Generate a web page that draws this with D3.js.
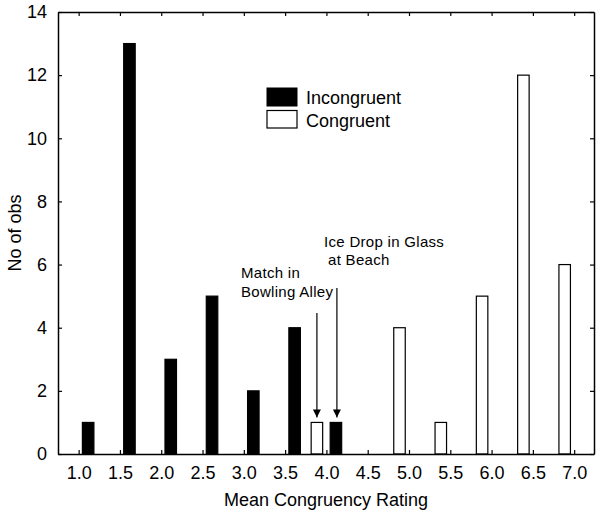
<!DOCTYPE html>
<html>
<head>
<meta charset="utf-8">
<script src="https://cdn.jsdelivr.net/npm/d3@7"></script>
<style>
  body { margin: 0; background: #fff; }
  svg text { font-family: "Liberation Sans", Arial, sans-serif; fill: #000; }
</style>
</head>
<body>
<svg id="chart" width="601" height="516"></svg>
<script>
// ratings (x positions) and counts for each group
var incongruentX = [1.0, 1.5, 2.0, 2.5, 3.0, 3.5, 4.0];
var incongruentN = [1, 13, 3, 5, 2, 4, 1];
var congruentX = [4.0, 5.0, 5.5, 6.0, 6.5, 7.0];
var congruentN = [1, 4, 1, 5, 12, 6];
var xTicks = [1.0, 1.5, 2.0, 2.5, 3.0, 3.5, 4.0, 4.5, 5.0, 5.5, 6.0, 6.5, 7.0];
var yTicks = [0, 2, 4, 6, 8, 10, 12, 14];

var margin = {left: 58, right: 7, top: 12, bottom: 62};
var W = 601, H = 516;

var svg = d3.select("#chart");

var x = d3.scaleLinear().domain([0.75, 7.24]).range([margin.left, W - margin.right]);
var y = d3.scaleLinear().domain([0, 14]).range([H - margin.bottom, margin.top]);

var barW = 11.5;
var off = 9.5; // bars sit beside the tick: incongruent right, congruent left

var g = svg.append("g");

// bars
g.selectAll("rect.inc")
  .data(incongruentX.map(function(v, i){ return {x: v, n: incongruentN[i]}; }))
  .enter().append("rect")
  .attr("class", "inc")
  .attr("x", function(d){ return x(d.x) + off - barW/2; })
  .attr("y", function(d){ return y(d.n); })
  .attr("width", barW)
  .attr("height", function(d){ return y(0) - y(d.n); })
  .attr("fill", "#000")
  .attr("stroke", "#000")
  .attr("stroke-width", 1.2);

g.selectAll("rect.con")
  .data(congruentX.map(function(v, i){ return {x: v, n: congruentN[i]}; }))
  .enter().append("rect")
  .attr("class", "con")
  .attr("x", function(d){ return x(d.x) - off - barW/2; })
  .attr("y", function(d){ return y(d.n); })
  .attr("width", barW)
  .attr("height", function(d){ return y(0) - y(d.n); })
  .attr("fill", "#fff")
  .attr("stroke", "#000")
  .attr("stroke-width", 1.2);

// axes, ticks pointing inwards on all four sides
var xb = svg.append("g").attr("transform", "translate(0," + y(0) + ")")
  .call(d3.axisBottom(x).tickValues(xTicks).tickSizeInner(-4).tickSizeOuter(0)
    .tickPadding(10).tickFormat(d3.format(".1f")));
var xt = svg.append("g").attr("transform", "translate(0," + y(14) + ")")
  .call(d3.axisTop(x).tickValues(xTicks).tickSizeInner(-4).tickSizeOuter(0).tickFormat(""));
var yl = svg.append("g").attr("transform", "translate(" + x(0.75) + ",0)")
  .call(d3.axisLeft(y).tickValues(yTicks).tickSizeInner(-4).tickSizeOuter(0).tickPadding(10));
var yr = svg.append("g").attr("transform", "translate(" + x(7.24) + ",0)")
  .call(d3.axisRight(y).tickValues(yTicks).tickSizeInner(-4).tickSizeOuter(0).tickFormat(""));

[xb, xt, yl, yr].forEach(function(a){
  a.select(".domain").attr("stroke", "#000").attr("stroke-width", 1.5);
  a.selectAll(".tick line").attr("stroke", "#000").attr("stroke-width", 1.2);
  a.selectAll("text").attr("font-size", 18).attr("font-family", "Liberation Sans, Arial, sans-serif").attr("fill", "#000");
});
xb.selectAll("text").attr("dy", "0.85em");
yl.selectAll("text").attr("dx", "-1");

// axis titles
svg.append("text").attr("x", (x(0.75) + x(7.24)) / 2).attr("y", 506)
  .attr("text-anchor", "middle").attr("font-size", 18).text("Mean Congruency Rating");
svg.append("text").attr("transform", "translate(21," + ((y(0) + y(14)) / 2) + ") rotate(-90)")
  .attr("text-anchor", "middle").attr("font-size", 18).text("No of obs");

// legend
var lg = svg.append("g").attr("transform", "translate(267,88)");
lg.append("rect").attr("width", 30).attr("height", 18).attr("fill", "#000").attr("stroke", "#000");
lg.append("text").attr("x", 39).attr("y", 16).attr("font-size", 18).text("Incongruent");
lg.append("rect").attr("y", 22.5).attr("width", 30).attr("height", 17.5).attr("fill", "#fff").attr("stroke", "#000").attr("stroke-width", 1.2);
lg.append("text").attr("x", 39).attr("y", 38.5).attr("font-size", 18).text("Congruent");

// annotations with arrows
svg.append("defs").append("marker")
  .attr("id", "ah").attr("viewBox", "0 0 10 10").attr("refX", 10).attr("refY", 5)
  .attr("markerWidth", 8).attr("markerHeight", 13).attr("markerUnits", "userSpaceOnUse")
  .attr("orient", "auto")
  .append("path").attr("d", "M0,0 L10,5 L0,10 Z").attr("fill", "#000");

var matchX = x(4.0) - off, iceX = x(4.0) + off + 1;
svg.append("line").attr("x1", matchX).attr("x2", matchX).attr("y1", 313).attr("y2", y(1) - 5)
  .attr("stroke", "#000").attr("stroke-width", 1.2).attr("marker-end", "url(#ah)");
svg.append("line").attr("x1", iceX).attr("x2", iceX).attr("y1", 288).attr("y2", y(1) - 5)
  .attr("stroke", "#000").attr("stroke-width", 1.2).attr("marker-end", "url(#ah)");

var ann = svg.append("g");
[["Match in", 241, 278], ["Bowling Alley", 241, 297], ["Ice Drop in Glass", 324, 246.5], ["at Beach", 328, 264.5]]
  .forEach(function(t){
    ann.append("text").attr("x", t[1]).attr("y", t[2]).attr("font-size", 15)
      .attr("letter-spacing", 0.3).text(t[0]);
  });
</script>
</body>
</html>
